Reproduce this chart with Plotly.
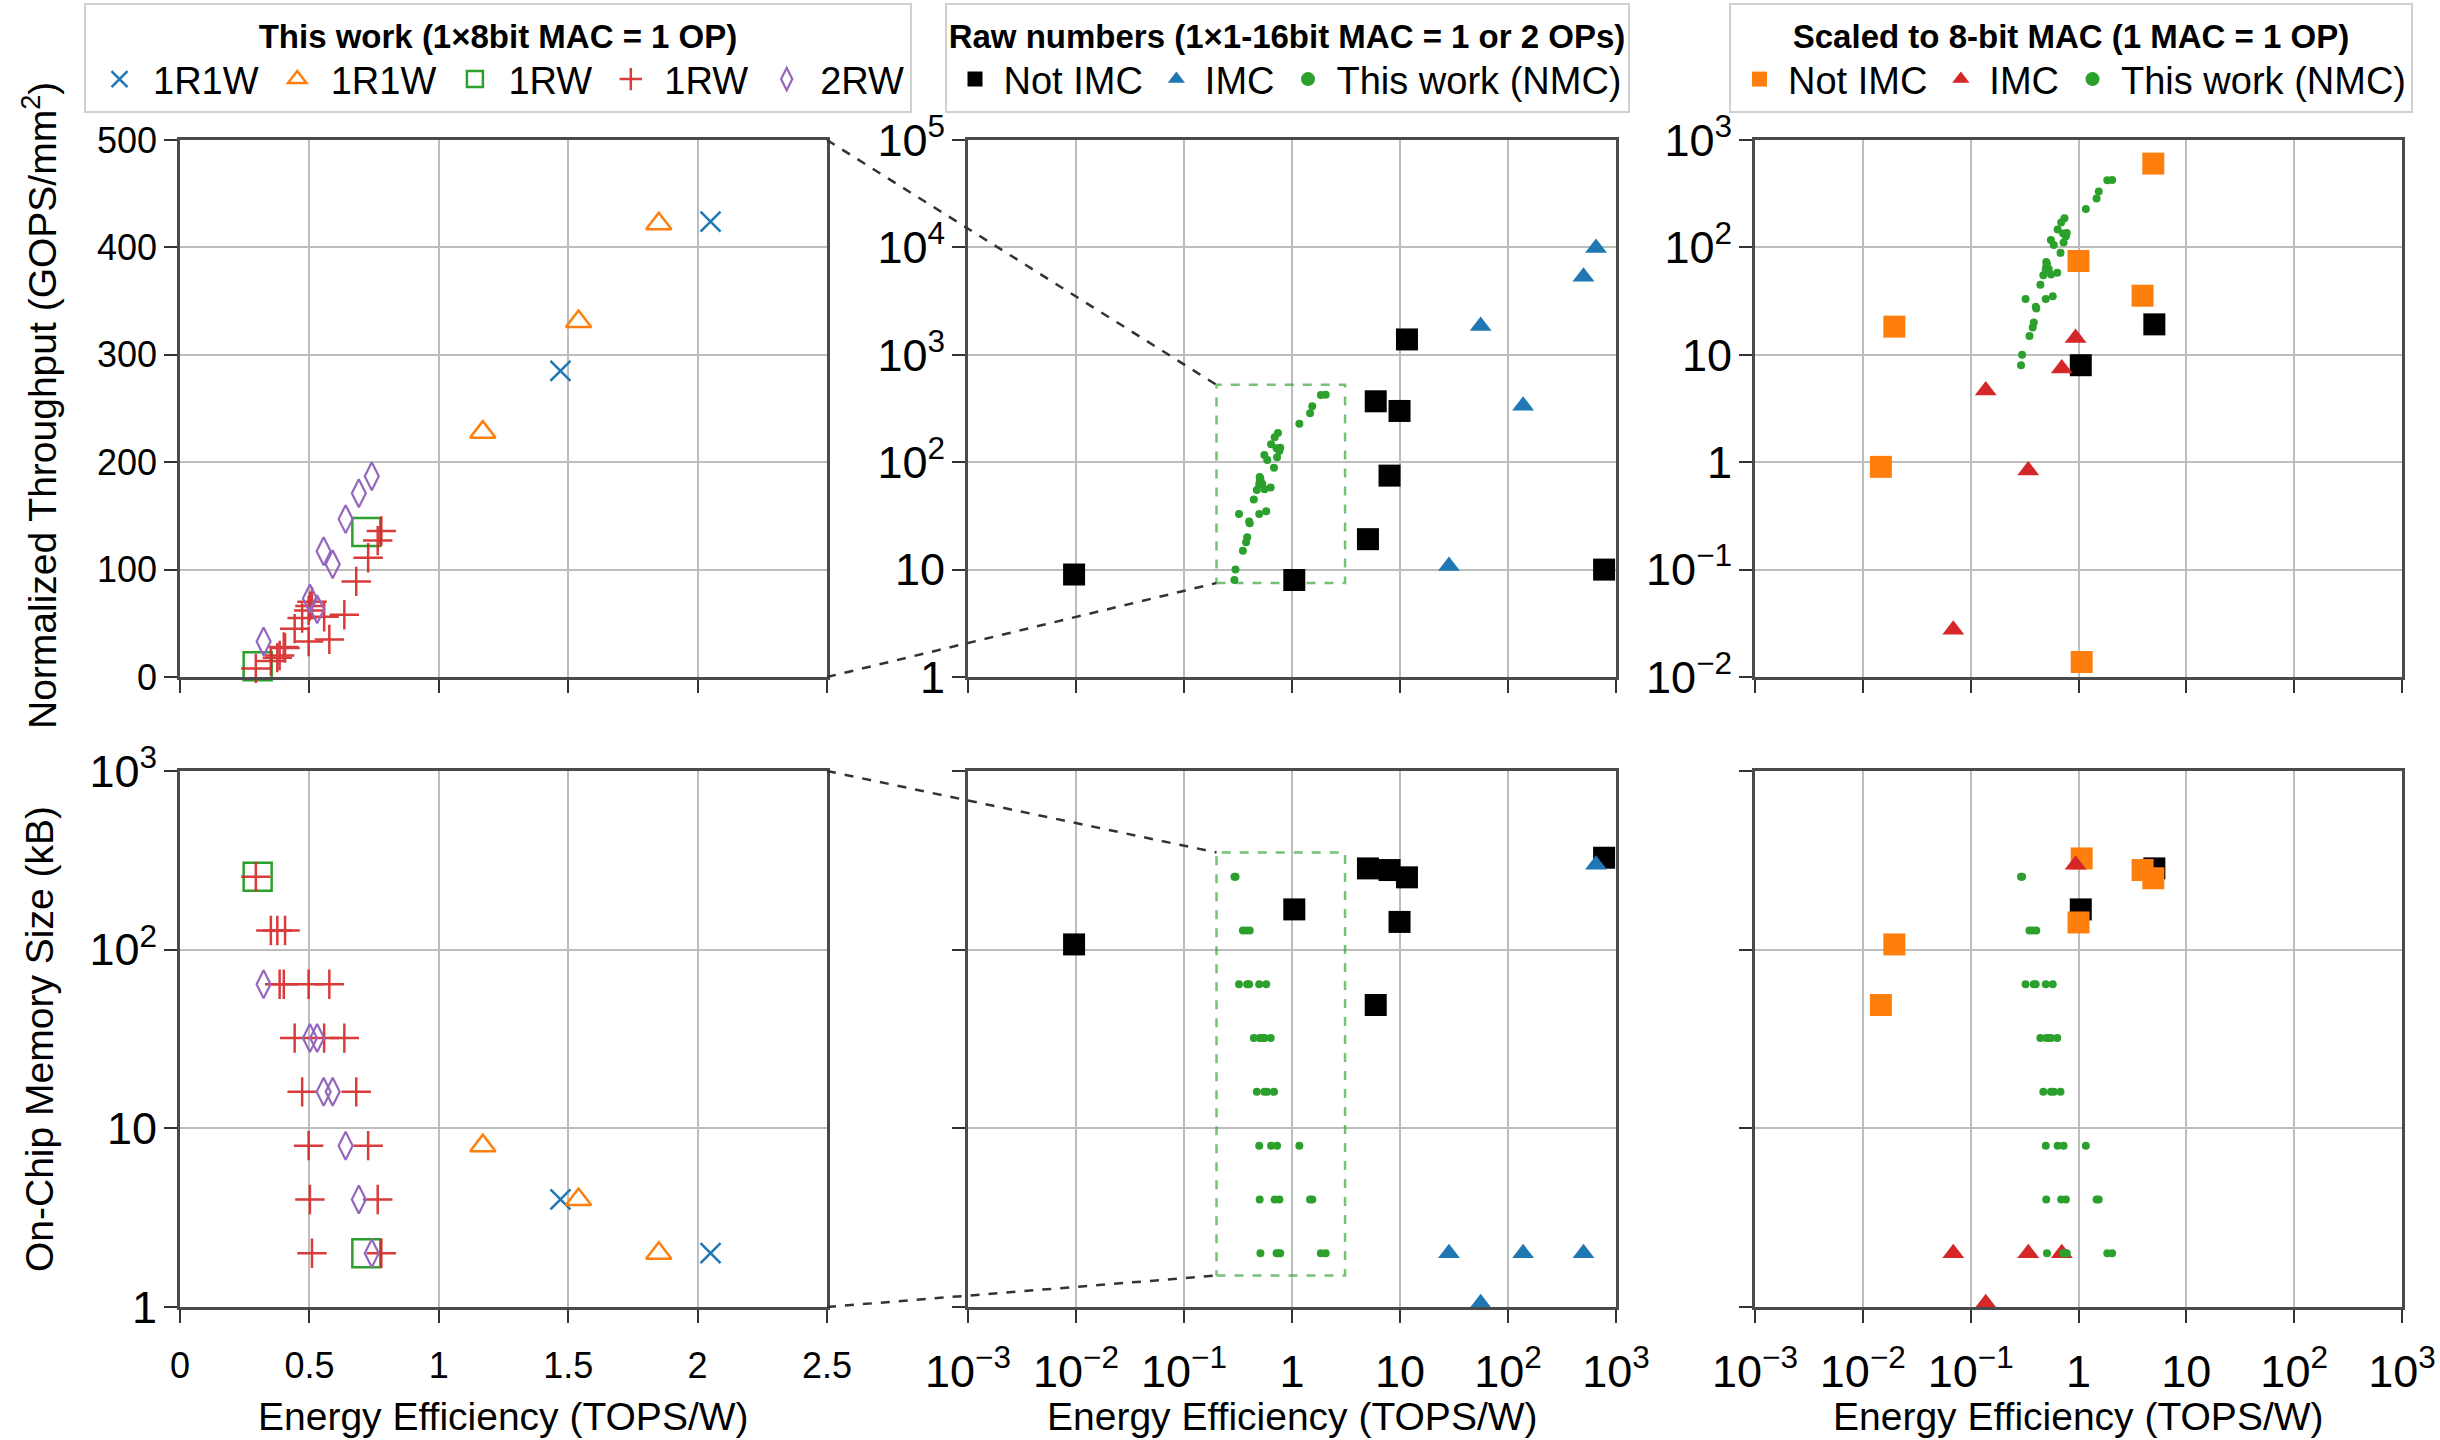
import numpy as np
import plotly.graph_objects as go

# ------------------------------------------------------------------
# This work (NMC): energy efficiency (TOPS/W), throughput (GOPS/mm^2),
# on-chip memory size (kB) for every memory configuration
# ------------------------------------------------------------------
w1r1w_a_ee = [1.47, 2.05]
w1r1w_a_thr = [285, 424]
w1r1w_a_mem = [4, 2]

w1r1w_b_ee = [1.17, 1.54, 1.85]
w1r1w_b_thr = [228, 331, 422]
w1r1w_b_mem = [8, 4, 2]

w1rw_a_ee = [0.30, 0.72]
w1rw_a_thr = [10, 135]
w1rw_a_mem = [256, 2]

w1rw_b_ee = [0.293, 0.351, 0.376, 0.406, 0.385, 0.401, 0.497, 0.577, 0.443, 0.557,
             0.635, 0.472, 0.681, 0.497, 0.727, 0.502, 0.764, 0.510, 0.778]
w1rw_b_thr = [8, 15, 18, 27, 20, 28, 33, 35, 45, 56,
              58, 55, 89, 62, 111, 66, 127, 70, 136]
w1rw_b_mem = [256, 128, 128, 128, 64, 64, 64, 64, 32, 32,
              32, 16, 16, 8, 8, 4, 4, 2, 2]

w2rw_ee = [0.323, 0.502, 0.530, 0.555, 0.590, 0.640, 0.691, 0.741]
w2rw_thr = [33, 73, 63, 117, 105, 147, 171, 187]
w2rw_mem = [64, 32, 32, 16, 16, 8, 4, 2]

# ------------------------------------------------------------------
# Other chips, raw numbers
# ------------------------------------------------------------------
raw_notimc_ee = [0.0096, 1.05, 5.05, 8.0, 5.96, 9.9, 11.6, 776]
raw_notimc_thr = [9, 8, 19.2, 75, 369, 300, 1390, 10]
raw_notimc_mem = [107, 168, 285, 279, 49, 143, 254, 327]

raw_imc_ee = [653, 500, 55.8, 138, 28.4]
raw_imc_thr = [9850, 5330, 1850, 336, 10.8]
raw_imc_mem = [299, 2, 1.05, 2, 2]

# ------------------------------------------------------------------
# Other chips scaled to 8-bit MAC (chips already at 8 bit stay black)
# ------------------------------------------------------------------
sc_notimc_ee = [4.94, 1.0, 3.93, 0.0196, 0.0147, 1.07]
sc_notimc_thr = [603, 74.7, 35.5, 18.3, 0.905, 0.0138]
sc_notimc_mem = [251, 142, 279, 107, 49, 324]

sc_same_ee = [5.05, 1.05]
sc_same_thr = [19.2, 8]
sc_same_mem = [285, 168]

sc_imc_ee = [0.94, 0.70, 0.138, 0.342, 0.069]
sc_imc_thr = [14.3, 7.47, 4.64, 0.838, 0.0275]
sc_imc_mem = [299, 2, 1.05, 2, 2]

# zoom window around this work's points in the log panels
box_ee = [0.2, 3.1]
box_thr = [7.5, 525]
box_mem = [1.5, 350]

# all of this work's points together
nmc_ee = w1r1w_a_ee + w1r1w_b_ee + w1rw_a_ee + w1rw_b_ee + w2rw_ee
nmc_thr = w1r1w_a_thr + w1r1w_b_thr + w1rw_a_thr + w1rw_b_thr + w2rw_thr
nmc_mem = w1r1w_a_mem + w1r1w_b_mem + w1rw_a_mem + w1rw_b_mem + w2rw_mem

BLUE, ORANGE, GREEN, RED, PURPLE = "#1f77b4", "#ff7f0e", "#2ca02c", "#d62728", "#9467bd"
FONT = "Liberation Sans, Arial, Helvetica, sans-serif"

W, H = 2440, 1440
XL = [180 / W, 827 / W]
XM = [968 / W, 1616 / W]
XR = [1755 / W, 2402 / W]
YT = [1 - 677 / H, 1 - 140 / H]
YB = [1 - 1307 / H, 1 - 771 / H]

fig = go.Figure()


def pts(x, y, ax, marker, name=None, legend=None, show=False, opacity=1.0):
    fig.add_trace(go.Scatter(
        x=x, y=y, xaxis="x" + ax, yaxis="y" + ax, mode="markers",
        marker=marker, name=name, legend=legend, showlegend=show,
        opacity=opacity, cliponaxis=False, hoverinfo="x+y"))


def open_marker(symbol, size, color, lw=2.5):
    return dict(symbol=symbol, size=size, color=color,
                line=dict(color=color, width=lw))


# ---- left column: this work, linear energy-efficiency axis
series = [
    (w1r1w_a_ee, w1r1w_a_thr, w1r1w_a_mem, open_marker("x-thin-open", 20, BLUE), "1R1W", 1.0),
    (w1r1w_b_ee, w1r1w_b_thr, w1r1w_b_mem, open_marker("triangle-up-open", 22, ORANGE), "1R1W", 1.0),
    (w1rw_a_ee, w1rw_a_thr, w1rw_a_mem, open_marker("square-open", 28, GREEN), "1RW", 1.0),
    (w1rw_b_ee, w1rw_b_thr, w1rw_b_mem, open_marker("cross-thin-open", 21, RED), "1RW", 0.9),
    (w2rw_ee, w2rw_thr, w2rw_mem, open_marker("diamond-tall-open", 20, PURPLE, 2.2), "2RW", 1.0),
]
for ee, thr, mem, mk, nm, op in series:
    pts(ee, thr, "", mk, nm, "legend", True, op)
    pts(ee, mem, "4", mk, nm, "legend", False, op)

# ---- zoom boxes (dashed green) in the middle column
for ax, yy in (("2", box_thr), ("5", box_mem)):
    fig.add_trace(go.Scatter(
        x=[box_ee[0], box_ee[1], box_ee[1], box_ee[0], box_ee[0]],
        y=[yy[0], yy[0], yy[1], yy[1], yy[0]],
        xaxis="x" + ax, yaxis="y" + ax, mode="lines",
        line=dict(color="rgba(44,160,44,0.65)", width=2.5, dash="dash"),
        showlegend=False, hoverinfo="skip"))

sq_black = dict(symbol="square", size=22, color="black")
tri_blue = dict(symbol="triangle-up", size=19, color=BLUE)
dot_green = dict(symbol="circle", size=8, color=GREEN)
sq_orange = dict(symbol="square", size=22, color=ORANGE)
tri_red = dict(symbol="triangle-up", size=19, color=RED)

# ---- middle column: raw numbers
pts(raw_notimc_ee, raw_notimc_thr, "2", sq_black)
pts(raw_notimc_ee, raw_notimc_mem, "5", sq_black)
pts(raw_imc_ee, raw_imc_thr, "2", tri_blue)
pts(raw_imc_ee, raw_imc_mem, "5", tri_blue)
pts(nmc_ee, nmc_thr, "2", dot_green)
pts(nmc_ee, nmc_mem, "5", dot_green)

# ---- right column: scaled to 8-bit MAC
pts(sc_same_ee, sc_same_thr, "3", sq_black)
pts(sc_same_ee, sc_same_mem, "6", sq_black)
pts(sc_notimc_ee, sc_notimc_thr, "3", sq_orange)
pts(sc_notimc_ee, sc_notimc_mem, "6", sq_orange)
pts(sc_imc_ee, sc_imc_thr, "3", tri_red)
pts(sc_imc_ee, sc_imc_mem, "6", tri_red)
pts(nmc_ee, nmc_thr, "3", dot_green)
pts(nmc_ee, nmc_mem, "6", dot_green)

# ---- legend entries for the middle and right legends
for nm, mk, lg, ax in [
    ("Not IMC", dict(symbol="square", size=15, color="black"), "legend2", "2"),
    ("IMC", dict(symbol="triangle-up", size=15, color=BLUE), "legend2", "2"),
    ("This work (NMC)", dict(symbol="circle", size=14, color=GREEN), "legend2", "2"),
    ("Not IMC", dict(symbol="square", size=15, color=ORANGE), "legend3", "3"),
    ("IMC", dict(symbol="triangle-up", size=15, color=RED), "legend3", "3"),
    ("This work (NMC)", dict(symbol="circle", size=14, color=GREEN), "legend3", "3"),
]:
    fig.add_trace(go.Scatter(x=[None], y=[None], xaxis="x" + ax, yaxis="y" + ax,
                             mode="markers", marker=mk, name=nm, legend=lg,
                             showlegend=True, hoverinfo="skip"))

# ---- axes
base = dict(showline=True, linecolor="#4a4a4a", linewidth=2.5, mirror=True,
            showgrid=True, gridcolor="#bdbdbd", gridwidth=2, zeroline=False,
            ticks="outside", ticklen=13, tickwidth=2, tickcolor="#333",
            automargin=False,
            tickfont=dict(family=FONT, size=36, color="black"))
logx = dict(type="log", range=[-3, 3], dtick=1, exponentformat="power")


def xax(dom, anchor, labels, extra):
    d = dict(base, domain=dom, anchor=anchor, showticklabels=labels,
             ticklabelstandoff=12)
    d.update(extra)
    return d


def yax(dom, anchor, labels, extra):
    d = dict(base, domain=dom, anchor=anchor, showticklabels=labels)
    d.update(extra)
    return d


lin_x = dict(range=[0, 2.5], dtick=0.5)
fig.update_layout(
    xaxis=xax(XL, "y", False, lin_x),
    yaxis=yax(YT, "x", True, dict(range=[0, 500], dtick=100)),
    xaxis2=xax(XM, "y2", False, logx),
    yaxis2=yax(YT, "x2", True, dict(type="log", range=[0, 5], dtick=1, exponentformat="power")),
    xaxis3=xax(XR, "y3", False, logx),
    yaxis3=yax(YT, "x3", True, dict(type="log", range=[-2, 3], dtick=1, exponentformat="power")),
    xaxis4=xax(XL, "y4", True, lin_x),
    yaxis4=yax(YB, "x4", True, dict(type="log", range=[0, 3], dtick=1, exponentformat="power")),
    xaxis5=xax(XM, "y5", True, logx),
    yaxis5=yax(YB, "x5", False, dict(type="log", range=[0, 3], dtick=1)),
    xaxis6=xax(XR, "y6", True, logx),
    yaxis6=yax(YB, "x6", False, dict(type="log", range=[0, 3], dtick=1)),
)


# ---- dashed connectors from the linear panels to the zoom boxes
def mid_x(v):
    return XM[0] + (np.log10(v) + 3) / 6 * (XM[1] - XM[0])


def top_y(v):
    return YT[0] + np.log10(v) / 5 * (YT[1] - YT[0])


def bot_y(v):
    return YB[0] + np.log10(v) / 3 * (YB[1] - YB[0])


conn = dict(color="#333333", width=2.5, dash="dash")
shapes = [
    dict(type="line", xref="paper", yref="paper", x0=XL[1], y0=YT[1],
         x1=mid_x(box_ee[0]), y1=top_y(box_thr[1]), line=conn),
    dict(type="line", xref="paper", yref="paper", x0=XL[1], y0=YT[0],
         x1=mid_x(box_ee[0]), y1=top_y(box_thr[0]), line=conn),
    dict(type="line", xref="paper", yref="paper", x0=XL[1], y0=YB[1],
         x1=mid_x(box_ee[0]), y1=bot_y(box_mem[1]), line=conn),
    dict(type="line", xref="paper", yref="paper", x0=XL[1], y0=YB[0],
         x1=mid_x(box_ee[0]), y1=bot_y(box_mem[0]), line=conn),
]

# ---- axis titles
title_font = dict(family=FONT, size=39, color="black")
ann = [
    dict(text="Normalized Throughput (GOPS/mm<sup>2</sup>)", x=39 / W, y=1 - 406 / H,
         textangle=-90),
    dict(text="On-Chip Memory Size (kB)", x=39 / W, y=1 - 1039 / H, textangle=-90),
]
for dom in (XL, XM, XR):
    ann.append(dict(text="Energy Efficiency (TOPS/W)", x=(dom[0] + dom[1]) / 2,
                    y=1 - 1416 / H))
for a in ann:
    a.update(xref="paper", yref="paper", showarrow=False, font=title_font,
             xanchor="center", yanchor="middle")


def legend_box(title, cx, itemwidth):
    return dict(
        title=dict(text="<b>" + title + "</b>", side="top center",
                   font=dict(family=FONT, size=33, color="black")),
        orientation="h", x=cx / W, xanchor="center", y=1 - 3 / H, yanchor="top",
        bgcolor="white", bordercolor="#d0d0d0", borderwidth=2,
        font=dict(family=FONT, size=38, color="black"),
        itemwidth=itemwidth, itemsizing="trace", tracegroupgap=0)


fig.update_layout(
    width=W, height=H, autosize=False,
    margin=dict(l=0, r=0, t=0, b=0, autoexpand=False),
    paper_bgcolor="white", plot_bgcolor="white",
    font=dict(family=FONT, color="black"),
    shapes=shapes, annotations=ann,
    legend=legend_box("This work (1×8bit MAC = 1 OP)", 498, 57),
    legend2=legend_box("Raw numbers (1×1-16bit MAC = 1 or 2 OPs)", 1287, 47),
    legend3=legend_box("Scaled to 8-bit MAC (1 MAC = 1 OP)", 2071, 47),
)

fig.write_html("out.html")
